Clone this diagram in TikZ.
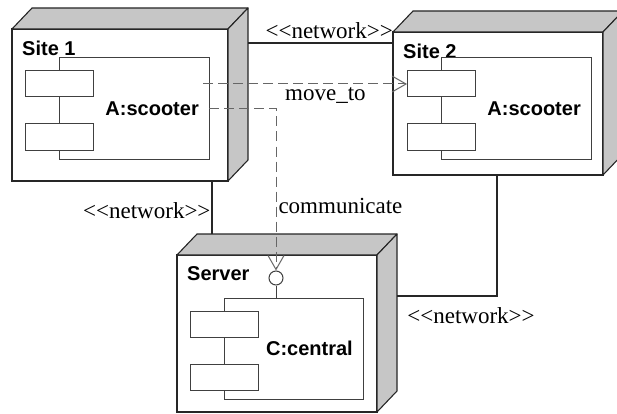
\documentclass[tikz,border=0pt]{standalone}
\usepackage{fontspec}
\setmainfont{Liberation Serif}
\setsansfont{Liberation Sans}
\usetikzlibrary{arrows.meta,positioning,calc}
\tikzset{
  face/.style = {draw=black!85, line width=1.1pt, fill=white, inner sep=0pt, outer sep=0pt},
  depth/.style = {draw=black!85, line width=1.1pt, fill=gray!45, line join=round},
  part/.style = {draw=black!75, line width=1pt, fill=white, inner sep=0pt, outer sep=0pt},
  stem/.style = {draw=black!75, line width=1pt},
  link/.style = {draw=black!85, line width=1.1pt},
  dep/.style = {draw=black!60, line width=1pt, dash pattern=on 10pt off 5pt,
                -{Straight Barb[length=14pt,width=16pt,line width=1pt]}},
  title/.style = {font=\sffamily\bfseries\fontsize{20}{22}\selectfont, inner sep=0pt},
  stereo/.style = {font=\fontsize{23}{26}\selectfont}
}
\begin{document}
\begin{tikzpicture}[x=1pt,y=-1pt]
  \clip (0,0) rectangle (617,414);
  \def\net{\textless\kern0pt\textless network\textgreater\kern0pt\textgreater}
  % deployment node: name, front face corners, title
  \def\depnode#1(#2,#3)(#4,#5)#6{%
    \pgfmathsetmacro{\w}{#4-#2}
    \pgfmathsetmacro{\h}{#5-#3}
    \node[face, anchor=north west, minimum width=\w pt, minimum height=\h pt] (#1) at (#2,#3) {};
    \node[anchor=north west, inner sep=0pt, outer sep=0pt, minimum width=\w pt, minimum height=\h pt] (#1b) at (#2+20,#3-21) {};
    \draw[depth] (#1.north west) -- (#1b.north west) -- (#1b.north east) -- (#1.north east) -- cycle;
    \draw[depth] (#1.north east) -- (#1b.north east) -- (#1b.south east) -- (#1.south east) -- cycle;
    \node[title, anchor=west] (#1t) at ([xshift=10pt,yshift=-19pt]#1.north west) {#6};
  }
  % component: name, body corners, label
  \def\comp#1(#2,#3)(#4,#5)#6{%
    \pgfmathsetmacro{\w}{#4-#2}
    \pgfmathsetmacro{\h}{#5-#3}
    \node[part, anchor=north west, minimum width=\w pt, minimum height=\h pt] (#1) at (#2,#3) {};
    \node[part, minimum width=68pt, minimum height=26pt, anchor=north] (#1a) at ([yshift=-13pt]#1.north west) {};
    \node[part, minimum width=68pt, minimum height=26pt, anchor=south] (#1c) at ([yshift=9pt]#1.south west) {};
    \node[title, anchor=east] (#1l) at ([xshift=-10pt]#1.east) {#6};
  }

  \depnode{site1}(12,29)(228,181){Site 1}
  \comp{comp1}(59,58)(209,159){A:scooter}
  \depnode{site2}(393,32)(603,175){Site 2}
  \comp{comp2}(441,58)(591,159){A:scooter}
  \depnode{server}(177,255)(377,412){Server}
  \comp{comp3}(224,298)(363,399){C:central}

  % provided interface
  \node[circle, stem, fill=white, minimum size=14pt, inner sep=0pt] (iface) at ([xshift=52pt,yshift=20pt]comp3.north west) {};
  \draw[stem] (iface.south) -- (iface.south |- comp3.north);

  % network links
  \coordinate (n12) at ([yshift=-11pt]site2.north west);
  \draw[link] (n12) -- (n12 -| site1b.east)
    node[stereo, above, pos=0.44] {\net};
  \coordinate (n1s) at ([xshift=-16pt]site1.south east);
  \draw[link] (n1s) -- (n1s |- serverb.north)
    node[stereo, left, midway, inner sep=1pt, yshift=-3pt] {\net};
  \coordinate (n2s) at ([xshift=104pt]site2.south west);
  \draw[link] (n2s) |- ([yshift=-62pt]serverb.north east)
    node[stereo, below, pos=0.63, yshift=-8pt] {\net};

  % dependencies
  \draw[dep] ([xshift=-6pt]comp1.east |- comp2a.west) -- (comp2a.west)
    node[stereo, below, pos=0.6] {move\_to};
  \draw[dep] (comp1.east) -| (iface.north)
    node[stereo, right, pos=0.8, inner sep=2pt] {communicate};
\end{tikzpicture}
\end{document}
